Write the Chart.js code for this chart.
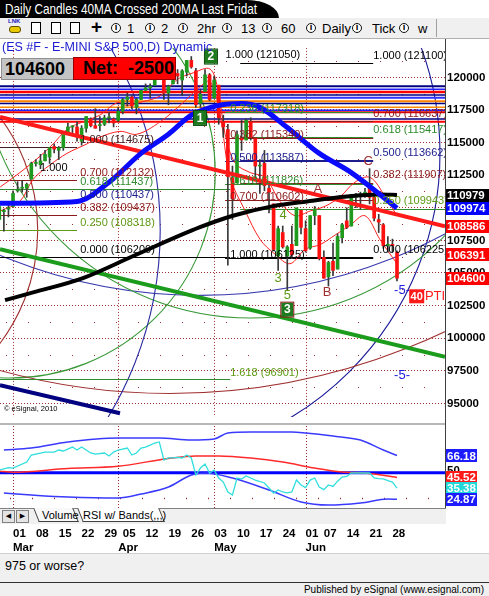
<!DOCTYPE html>
<html>
<head>
<meta charset="utf-8">
<title>Daily Candles 40MA Crossed 200MA</title>
<script src="https://cdn.jsdelivr.net/npm/chart.js@4.4.1/dist/chart.umd.min.js"></script>
<style>
html,body{margin:0;padding:0}
body{width:489px;height:596px;position:relative;overflow:hidden;background:#fff;font-family:"Liberation Sans",Arial,sans-serif}
div,span,canvas{position:absolute}
#tab{left:0;top:0;width:279px;height:18px;background:#000;border-top-right-radius:32px 18px}
#title{left:5px;top:0;color:#fff;font-size:15px;line-height:18px;white-space:nowrap;transform-origin:0 50%}
#toolbar{left:0;top:18px;width:489px;height:20px;background:#f0f0f0;border-bottom:1px solid #b0b0b0}
.ic{top:5px;width:8px;height:8px;border:1px solid #111;border-radius:50%;font-size:7px;line-height:8px;text-align:center;font-weight:bold;background:#fff;font-family:"DejaVu Sans",sans-serif}
.tl{top:3px;font-size:13px;line-height:15px;color:#000;white-space:nowrap}
.doc{top:4px;width:8px;height:10px;border:1px solid #000;background:#fff}
#c1{left:0;top:39px}
#c2{left:0;top:424px}
</style>
</head>
<body>
<div id="tab"></div>
<span id="title">Daily Candles 40MA Crossed 200MA Last Fridat</span>
<div id="toolbar">
  <span style="left:8px;top:0;font-size:6px;font-weight:bold;color:#2020c0">LNK</span>
  <div style="left:9px;top:8px;width:10px;height:5px;background:#e8c800;border:1px solid #605000;border-radius:3px"></div>
  <div class="doc" style="left:31px"></div>
  <div class="doc" style="left:51px"></div>
  <div class="doc" style="left:70px"></div>
  <span class="tl" style="left:91px;top:-1px;font-size:19px;line-height:20px;font-weight:bold">+</span>
  <div class="ic" style="left:111px">I</div><span class="tl" style="left:127px">1</span>
  <div class="ic" style="left:145px">I</div><span class="tl" style="left:161px">2</span>
  <div class="ic" style="left:178px">I</div><span class="tl" style="left:197px">2hr</span>
  <div class="ic" style="left:222px">I</div><span class="tl" style="left:241px">13</span>
  <div class="ic" style="left:262px">I</div><span class="tl" style="left:281px">60</span>
  <div class="ic" style="left:306px">I</div><span class="tl" style="left:322px">Daily</span>
  <div class="ic" style="left:352px">I</div><span class="tl" style="left:372px">Tick</span>
  <div class="ic" style="left:399px">I</div><span class="tl" style="left:418px">w</span>
  <div style="left:436px;top:1px;width:1px;height:18px;background:#a0a0a0"></div>
</div>

<canvas id="c1" width="489" height="387"></canvas>
<canvas id="c2" width="489" height="132"></canvas>

<div style="left:2px;top:40px;font-size:12.5px;line-height:14px;color:#1a1ad0;white-space:nowrap">(ES #F - E-MINI S&amp;P 500,D) Dynamic</div>
<div style="left:1px;top:58px;width:72px;height:20px;background:#c4c4c4;border:1px solid #909090"><span id="lastTxt" style="left:3px;top:0;font-size:18px;line-height:20px;font-weight:bold"></span></div>
<div style="left:73px;top:57px;width:101px;height:21px;background:#ff0000;border:1px solid #900"><span id="netTxt" style="left:9px;top:0;font-size:18px;line-height:21px;font-weight:bold;white-space:pre"></span></div>

<div style="left:0;top:423px;width:446px;height:2px;background:#b8b8b8"></div>
<div style="left:445px;top:39px;width:1px;height:485px;background:#404040"></div>

<div style="left:0;top:508px;width:446px;height:15px;background:#f0f0f0;border-top:1px solid #808080">
  <div style="left:2px;top:1px;width:11px;height:11px;border:1px solid #808080;background:#e4e4e4;font-size:7px;line-height:11px;text-align:center;font-family:'DejaVu Sans'">&#9664;</div>
  <div style="left:16px;top:1px;width:11px;height:11px;border:1px solid #808080;background:#e4e4e4;font-size:7px;line-height:11px;text-align:center;font-family:'DejaVu Sans'">&#9654;</div>
  <div style="left:36px;top:-1px;width:38px;height:13px;border:1px solid #404040;border-top:none;background:#f8f8f8;transform:skewX(22deg)"></div>
  <div style="left:80px;top:-1px;width:80px;height:13px;border:1px solid #404040;border-top:none;background:#fff;transform:skewX(22deg)"></div>
  <span style="left:42px;top:0;font-size:11px;line-height:13px">Volume</span>
  <span style="left:83px;top:0;font-size:11px;line-height:13px;white-space:nowrap">RSI w/ Bands(,,,)</span>
</div>

<div style="left:0;top:553px;width:489px;height:29px;background:#f0f0f0;border-top:1px solid #d0d0d0"><span style="left:5px;top:5px;font-size:12.5px">975 or worse?</span></div>
<div style="left:0;top:582px;width:489px;height:1px;background:#303030"></div>
<div style="left:0;top:583px;width:489px;height:13px;background:#f0f0f0"><span style="right:5px;top:0;font-size:10px;line-height:13px;white-space:nowrap">Published by eSignal (www.esignal.com)</span></div>

<script>
// ---------------- DATA ----------------
const dates = ['02-24','02-25','02-26',
 '03-01','03-02','03-03','03-04','03-05','03-08','03-09','03-10','03-11','03-12','03-15','03-16','03-17','03-18','03-19','03-22','03-23','03-24','03-25','03-26','03-29','03-30','03-31',
 '04-01','04-05','04-06','04-07','04-08','04-09','04-12','04-13','04-14','04-15','04-16','04-19','04-20','04-21','04-22','04-23','04-26','04-27','04-28','04-29','04-30',
 '05-03','05-04','05-05','05-06','05-07','05-10','05-11','05-12','05-13','05-14','05-17','05-18','05-19','05-20','05-21','05-24','05-25','05-26','05-27','05-28',
 '06-01','06-02','06-03','06-04','06-07','06-08','06-09','06-10','06-11','06-14','06-15','06-16','06-17','06-18','06-21','06-22','06-23','06-24','06-25','06-28','06-29'];

const openP = [109100,109700,109900,
 110100,111300,111500,111500,112200,113400,113300,113600,113900,114700,114400,114600,115600,116200,116200,115100,116100,116800,116300,116300,116400,116900,116800,
 116700,117400,118300,118500,117700,118300,119000,119200,119400,120600,120600,118800,119500,120300,119800,120400,121300,120500,118000,118900,120200,
 118400,119400,116600,116000,112300,111900,115300,115200,116600,115300,113200,113400,111500,110300,106300,108100,106300,107200,107100,109800,
 108400,106900,109400,109400,106200,104700,105900,105300,107700,109000,108600,110800,111000,111100,111600,110800,109100,108700,107100,107200,106600];
const highP = [110200,109900,110300,
 111300,112000,112100,111900,113500,113700,114100,114400,114600,114900,114700,115600,116500,116300,116600,116300,117000,116900,117600,117000,117100,117300,116900,
 117700,118400,118800,118600,118400,119000,119500,119500,120600,120900,120700,119400,120400,120600,120600,121300,121600,120700,119100,120600,120300,
 120100,119400,117100,116400,113200,115900,116700,116800,116900,115300,113700,114400,112000,110300,108600,108600,107100,108600,109900,109800,
 109000,109400,110100,109400,106700,105900,107300,108000,108800,110000,111000,111100,111200,111500,113000,111300,109500,108800,107800,107600,106700];
const lowP = [109100,108200,109300,
 110100,111200,111200,110800,112200,113200,113000,113600,113400,114200,113700,114400,115600,115700,115100,114800,115800,116200,116100,115900,116300,116500,116200,
 116600,117200,117800,117600,117200,118300,119000,118400,119400,120400,118300,117900,119500,119500,118600,120100,120700,117700,117700,118900,118200,
 118400,116400,115400,105600,109100,111900,114400,115200,115200,112200,111100,111300,109600,106700,105200,106900,103700,106100,107100,108000,
 106600,106800,108700,106000,104600,104000,104800,105300,107300,108400,108600,110000,109900,110800,110300,109000,108100,106900,106600,106600,104400];
const closeP = [110100,109800,110000,
 111100,111400,111500,111800,113400,113400,113600,114100,114600,114500,114600,115600,116200,116200,115600,116100,117000,116300,116100,116300,116900,116900,116500,
 117400,118300,118500,117800,118300,119000,119200,119300,120600,120800,118800,119300,120300,120100,120500,121300,120800,117900,118700,120200,118300,
 119800,116900,116200,112400,110700,115600,115200,116700,115400,113200,113200,111700,111200,106800,108400,107000,107000,106400,110000,108500,
 106700,109400,109900,106100,104600,105800,105200,107800,108700,108500,111000,110900,111000,111200,110800,109200,108900,107100,107200,107100,104600];

// moving averages (trading-day index from 01 Mar, value)
const ma40Days = [-3,14,21,28,34,39,45,50,54,60,67,74,84];
const ma40Vals = [110350,110490,111960,114170,115640,117110,117850,117990,117700,116150,114170,112700,109974];
const ma200Days = [-1.75,4.4,15.3,26.3,40.9,48.1,56.9,64.3,73.1,80.3,84];
const ma200Vals = [102920,103510,104610,106300,108510,109390,110130,110490,110860,111010,110979];

// thin red price envelopes
const envUpDays = [-2.8,1.5,5.9,8.8,11.8,15.3,19.0,22.8,25.0,28.4,32.2,35.9,39.4,43.1,44.9,46.4,48.6,51.9,55.1,58.4,61.7,65.0,68.3,71.6,74.8,78.1,81.4,84];
const envUpVals = [111596,112699,113949,114905,116007,116596,117110,118066,117846,118140,118581,119831,120346,120640,118949,115640,113434,112699,112331,110493,109390,109757,110125,110860,111963,112331,110860,109390];
const envLoDays = [-2.8,1.5,4.4,8.1,11.8,16.2,19.0,23.4,27.1,32.2,37.2,40.3,43.1,45.3,47.5,50.8,54.1,57.3,60.6,63.9,67.2,70.5,73.7,77.0,80.3,84];
const envLoVals = [109757,110493,112184,113287,114169,114905,115419,115860,115640,116596,118066,119096,119684,117110,112331,109757,107551,106448,105713,106816,107183,107918,108654,109390,107551,105713];

// drawn trend lines (day index, price)
const redTrendDays = [-2.85,94.5],  redTrendVals = [116960,108586];
const greenTrendDays = [-2.85,94.5], greenTrendVals = [106820,98580];
const navyTrendDays = [-2.85,23.4], navyTrendVals = [96390,94250];

// horizontal band levels at top
const bandPrices = [119316,119096,118875,118654,118434,118176,117993,117700,117478,117331,116816,116596];
const bandColors = ['#000080','#2020ff','#ff0000','#000080','#3030ff','#ff8000','#000080','#ff8c00','#2020ff','#e00000','#000080','#ff0000'];
const bandWidths = [2,1.5,2.5,1.5,2,2,1.5,1.5,1.5,2,1.5,2];

// Fibonacci arcs: center (day, price), radius in days
const arcDays = [-0.66,26.0,40.9,34.4,51.9,-46.6,-35.7];
const arcPrices = [112683,114169,142993,144831,122330,108270,108270];
const arcRadii = [44.9,67.4,113.3,140.0,59.3,78.8,41.1];
const arcColors = ['#3a9a3a','#1a1a9a','#3a3ab0','#a03030','#3a9a3a','#2a2aa0','#a03030'];

// Fibonacci retracement sets
const fibLeftLevels = [114675,112132,111437,110437,109437,108318,106200];
const fibLeftRatios = ['1.000','0.700','0.618','0.500','0.382','0.250','0.000'];
const fibMidLevels = [117318,115340,113587,111826,110602,106125];
const fibMidRatios = ['0.236','0.382','0.500','0.618','0.700','1.000'];
const fibRightLevels = [121100,116637,115417,113662,111907,109943,106225];
const fibRightRatios = ['1.000','0.700','0.618','0.500','0.382','0.250','0.000'];
const fibExtLevel = 96901, fibExtRatio = '1.618';

// wave / pattern markers
const boxTexts = ['1','2','3'];
const boxDays = [40.9,43.3,60];
const boxPrices = [116890,121596,102190];
const letterTexts = ['4','3','5','A','B','C','-5-','-5-'];
const letterDays = [59.1,58,60,66.7,68.7,77.7,85.1,85.1];
const letterPrices = [109390,104610,103290,111375,103510,113581,103654,97110];

// right-axis last values
const lastVals = [110979,109974,108586,106391,104600];
const lastColors = ['#000000','#0000ff','#ff0000','#ff0000','#ff0000'];
const priceTicks = [95000,97500,100000,102500,105000,107500,110000,112500,115000,117500,120000];
const minorGrid = [96250,98750,101250,103750,106250,108750,111250,113750,116250,118750,121250];

// RSI w/ Bands
const rsiDays = [-3,-1,0,3,4,7,9,10,11,13,14,15,17,18,20,21,22,23,25,26,27,28,29,30,31,32,33,34,35,36,37,38,39,40,41,42,43,44,45,46,47,48,49,50,51,52,53,55,57,58,59,60,61,62,63,64,65,66,67,68,69,70,71,72,73,74,75,76,77,78,79,80,81,82,83,84];
const rsiVals = [52.5,54.7,54.4,60.1,66.7,69.5,69.5,71.4,70.5,74.2,71.4,74.2,68.6,67.6,68.6,65.8,69.5,71.4,73.3,66.7,68.6,73.3,74.2,76.0,78.0,79.0,62.0,63.9,63.9,64.5,63.9,66.7,63.9,47.8,54.4,58.2,49.7,52.5,45.0,41.2,31.8,29.0,45.0,44.0,46.9,45.0,43.0,40.3,30.8,33.7,31.8,31.0,31.8,43.1,38.4,36.0,43.0,45.0,36.5,34.0,38.4,37.0,42.0,45.9,46.5,49.7,49.7,49.7,49.7,49.7,45.0,44.5,44.1,42.5,41.2,35.38];
const rsiMaDays = [-3,0,12,23,34,40,45,52,59,66,72,77,84];
const rsiMaVals = [51.5,50.5,54,56,63.5,65.8,65.8,63.9,60.1,54.4,50.7,49.7,45.52];
const rsiUpDays = [-2,4,12,23,32,39,44,47,52,61,64,70,76,81,84];
const rsiUpVals = [71.4,73.3,79,82.7,82.7,80.8,81.8,87.5,88.4,88.4,87.5,84.6,80.8,71.4,66.18];
const rsiLoDays = [-2,4,12,23,28,34,39,42,48,56,63,69,76,82,84];
const rsiLoVals = [30.8,29,27.1,26.1,29.9,36.5,47.8,49.7,45,33.7,22.4,19.5,21.4,25.2,24.87];
const rsiMid = 50;
const rsiLast = [66.18,45.52,35.38,24.87];
const rsiLastColors = ['#1c1cff','#ff1a1a','#22d8d8','#1c1cff'];

// x-axis labels
const weekDates = ['03-01','03-08','03-15','03-22','03-29','04-05','04-12','04-19','04-26','05-03','05-10','05-17','05-24','06-01','06-07','06-14','06-21','06-28'];
const weekLabels = ['01','08','15','22','29','05','12','19','26','03','10','17','24','01','07','14','21','28'];
const monthDates = ['03-01','04-01','05-03','06-01'];
const monthLabels = ['Mar','Apr','May','Jun'];

// ---------------- HELPERS ----------------
const off = dates.indexOf('03-01');
const dayX = d => dates.indexOf(d) - off;
const pairs = (xs, ys) => xs.map((x,i)=>({x:x, y:ys[i]}));
const xMin = -2.85, xMax = 94.5;
const yMin = 93950, yMax = 122260;
const FONT = '"Liberation Sans", Arial, sans-serif';
const DR='#8b1a1a', GR='#2e8b2e', GR2='#5f9a14', NV='#1c1c8c', BK='#000000';

document.getElementById('lastTxt').textContent = String(closeP[closeP.length-1]);
document.getElementById('netTxt').textContent = 'Net:  ' + String(closeP[closeP.length-1]-closeP[closeP.length-2]);
(function(){const t=document.getElementById('title');const w=t.getBoundingClientRect().width;t.style.transform='scaleX('+(252/w)+')';})();

function hLine(ctx, x1, x2, py, color, w){
  ctx.strokeStyle=color; ctx.lineWidth=w; ctx.beginPath(); ctx.moveTo(x1,py); ctx.lineTo(x2,py); ctx.stroke();
}
function drawFib(ctx, xs, ys, levels, colors, from, toArr){
  levels.forEach((lv,i)=>{
    const py=Math.round(ys.getPixelForValue(lv))+0.5;
    hLine(ctx, xs.getPixelForValue(from), xs.getPixelForValue(toArr[i]), py, colors[i], 1);
  });
}
function fibLabels(ctx, xs, ys, levels, ratios, colors, labelDay, lift){
  ctx.font='11px '+FONT; ctx.textAlign='left'; ctx.textBaseline='middle';
  levels.forEach((lv,i)=>{
    ctx.fillStyle=colors[i];
    ctx.fillText(ratios[i]+' ('+lv+')', xs.getPixelForValue(labelDay), ys.getPixelForValue(lv)-lift);
  });
}
function valueBox(ctx, left, w, py, text, bg){
  ctx.fillStyle=bg; ctx.fillRect(left, Math.round(py-6.5), w, 13);
  ctx.fillStyle='#fff'; ctx.font='bold 11.5px '+FONT; ctx.textAlign='left'; ctx.textBaseline='middle';
  ctx.fillText(text, left+1, Math.round(py)+0.5);
}

const mainDecor = {
  id:'mainDecor',
  beforeDatasetsDraw(chart){
    const {ctx, chartArea:a, scales:{x,y}} = chart;
    ctx.save(); ctx.beginPath(); ctx.rect(a.left,a.top,a.width,a.height); ctx.clip();
    ctx.setLineDash([1,21]);
    minorGrid.forEach(p=>hLine(ctx, a.left+6, a.right, Math.round(y.getPixelForValue(p))+0.5, '#a03030', 1));
    ctx.setLineDash([1,2]); ctx.strokeStyle='#a03030'; ctx.lineWidth=1;
    monthDates.forEach(d=>{const px=Math.round(x.getPixelForValue(dayX(d)))+0.5; ctx.beginPath(); ctx.moveTo(px,a.top); ctx.lineTo(px,a.bottom); ctx.stroke();});
    ctx.setLineDash([]);
    const ppd = a.width/(xMax-xMin);
    arcDays.forEach((d,i)=>{
      ctx.strokeStyle=arcColors[i]; ctx.lineWidth=1.1; ctx.beginPath();
      ctx.arc(x.getPixelForValue(d), y.getPixelForValue(arcPrices[i]), arcRadii[i]*ppd, 0, Math.PI*2); ctx.stroke();
    });
    bandPrices.forEach((p,i)=>hLine(ctx, a.left, a.right, y.getPixelForValue(p), bandColors[i], bandWidths[i]));
    drawFib(ctx,x,y,fibLeftLevels,['#402020',DR,GR,NV,DR,GR2,BK],xMin,[14,14,47.5,14,14,14,47.5]);
    drawFib(ctx,x,y,fibMidLevels,[GR,DR,NV,GR,DR,BK],46.4,[78.8,78.8,78.8,78.8,78.8,78.8]);
    drawFib(ctx,x,y,fibRightLevels,[BK,DR,GR,NV,DR,GR,BK],49.7,[78.8,78.8,78.8,78.8,78.8,xMax,78.8]);
    hLine(ctx, a.left, x.getPixelForValue(47.5), Math.round(y.getPixelForValue(fibExtLevel))+0.5, GR, 1);
    ctx.restore();
  },
  afterDatasetsDraw(chart){
    const {ctx, chartArea:a, scales:{x,y}} = chart;
    ctx.save(); ctx.beginPath(); ctx.rect(a.left,a.top,a.width,a.height); ctx.clip();
    fibLabels(ctx,x,y,fibLeftLevels,fibLeftRatios,['#402020',DR,GR,NV,DR,GR2,BK],14.7,7);
    fibLabels(ctx,x,y,fibMidLevels,fibMidRatios,[GR,DR,NV,GR,DR,BK],47.5,3);
    fibLabels(ctx,x,y,fibRightLevels,fibRightRatios,[BK,DR,GR,NV,DR,GR2,BK],78.8,7.5);
    ctx.fillStyle=GR2; ctx.fillText(fibExtRatio+' ('+fibExtLevel+')', x.getPixelForValue(47.5), y.getPixelForValue(fibExtLevel)-6);
    ctx.fillStyle=BK; ctx.fillText('1.000', x.getPixelForValue(5.9), y.getPixelForValue(113066));
    ctx.fillText('1.000 (121050)', x.getPixelForValue(46.5), y.getPixelForValue(121742));
    ctx.font='bold 12px '+FONT; ctx.textAlign='center'; ctx.textBaseline='middle';
    boxTexts.forEach((t,i)=>{
      const px=x.getPixelForValue(boxDays[i]), py=y.getPixelForValue(boxPrices[i]);
      ctx.fillStyle='#1e7a1e'; ctx.fillRect(px-6,py-7,12,14);
      ctx.strokeStyle= i===2 ? '#8b1a1a' : '#0a4a0a'; ctx.lineWidth=1; ctx.strokeRect(px-6.5,py-7.5,13,15);
      ctx.fillStyle='#fff'; ctx.fillText(t,px,py+0.5);
    });
    ctx.font='13px '+FONT;
    letterTexts.forEach((t,i)=>{
      ctx.fillStyle = i<3 ? GR2 : (i<6 ? '#a03030' : '#2020e0');
      ctx.fillText(t, x.getPixelForValue(letterDays[i]), y.getPixelForValue(letterPrices[i]));
    });
    const pp=x.getPixelForValue(88.2), py=y.getPixelForValue(103213);
    ctx.fillStyle='#ff1a1a'; ctx.fillRect(pp-7,py-7,15,14);
    ctx.fillStyle='#fff'; ctx.font='bold 11px '+FONT; ctx.fillText('40',pp+0.5,py+0.5);
    ctx.fillStyle='#ff1a1a'; ctx.font='13px '+FONT; ctx.textAlign='left'; ctx.fillText('PTI', x.getPixelForValue(90.1), py+0.5);
    ctx.fillStyle='#000'; ctx.font='7.5px '+FONT; ctx.fillText('\u00A9 eSignal, 2010', a.left+4, a.bottom-8);
    ctx.restore();
  },
  afterDraw(chart){
    const {ctx, chartArea:a, scales:{y}} = chart;
    lastVals.forEach((v,i)=>valueBox(ctx, a.right+1, 43, y.getPixelForValue(v), String(v), lastColors[i]));
  }
};

const rsiDecor = {
  id:'rsiDecor',
  beforeDatasetsDraw(chart){
    const {ctx, chartArea:a, scales:{x,y}} = chart;
    ctx.save(); ctx.beginPath(); ctx.rect(a.left,a.top,a.width,a.height); ctx.clip();
    ctx.setLineDash([1,2]); ctx.strokeStyle='#a03030'; ctx.lineWidth=1;
    monthDates.forEach(d=>{const px=Math.round(x.getPixelForValue(dayX(d)))+0.5; ctx.beginPath(); ctx.moveTo(px,a.top); ctx.lineTo(px,a.bottom); ctx.stroke();});
    ctx.setLineDash([1,21]);
    hLine(ctx, a.left+10, a.right, Math.round(y.getPixelForValue(26))+0.5, '#a03030', 1.5);
    ctx.restore();
  },
  afterDraw(chart){
    const {ctx, chartArea:a, scales:{y}} = chart;
    ctx.fillStyle='#000'; ctx.font='bold 11.5px '+FONT; ctx.textAlign='left'; ctx.textBaseline='middle';
    ctx.fillText(String(rsiMid), a.right+2, y.getPixelForValue(rsiMid)-2);
    rsiLast.forEach((v,i)=>valueBox(ctx, a.right+1, 31, y.getPixelForValue(v), v.toFixed(2), rsiLastColors[i]));
  }
};

const candleColor = dates.map((d,i)=> closeP[i]>=openP[i] ? '#1f9a1f' : '#ff1010');

new Chart(document.getElementById('c1'), {
  type:'bar',
  data:{datasets:[
    {type:'line', label:'40MA', data:pairs(ma40Days,ma40Vals), borderColor:'#0a0aff', borderWidth:5, pointRadius:0, cubicInterpolationMode:'monotone', order:1},
    {type:'line', label:'200MA', data:pairs(ma200Days,ma200Vals), borderColor:'#000', borderWidth:4, pointRadius:0, cubicInterpolationMode:'monotone', order:2},
    {type:'line', label:'red trend', data:pairs(redTrendDays,redTrendVals), borderColor:'#ff1a1a', borderWidth:4, pointRadius:0, order:3},
    {type:'line', label:'green trend', data:pairs(greenTrendDays,greenTrendVals), borderColor:'#1c9c1c', borderWidth:4, pointRadius:0, order:3},
    {type:'line', label:'navy trend', data:pairs(navyTrendDays,navyTrendVals), borderColor:'#000080', borderWidth:4, pointRadius:0, order:3},
    {label:'body', data:dates.map((d,i)=>({x:i-off, y:[openP[i],closeP[i]]})), backgroundColor:candleColor, barThickness:3, minBarLength:1, grouped:false, order:4},
    {label:'wick', data:dates.map((d,i)=>({x:i-off, y:[lowP[i],highP[i]]})), backgroundColor:'#383838', barThickness:1, grouped:false, order:5},
    {type:'line', label:'env up', data:pairs(envUpDays,envUpVals), borderColor:'#ff2020', borderWidth:1, pointRadius:0, tension:0.35, order:6},
    {type:'line', label:'env lo', data:pairs(envLoDays,envLoVals), borderColor:'#ff2020', borderWidth:1, pointRadius:0, tension:0.35, order:6}
  ]},
  options:{
    responsive:false, animation:false, devicePixelRatio:1,
    layout:{padding:{top:1,bottom:1,left:0,right:0}},
    plugins:{legend:{display:false}, tooltip:{enabled:false}},
    scales:{
      x:{type:'linear', display:false, min:xMin, max:xMax, offset:false},
      y:{type:'linear', position:'right', min:yMin, max:yMax,
         afterFit:s=>{s.width=44;},
         afterBuildTicks:s=>{s.ticks=priceTicks.map(v=>({value:v}));},
         ticks:{color:'#000', font:{family:'Liberation Sans', size:11.5, weight:'bold'}, padding:2, callback:v=>String(v)},
         grid:{color:'#a03030', lineWidth:1, drawTicks:false},
         border:{display:false, dash:[1,2]}}
    }
  },
  plugins:[mainDecor]
});

const axisTickDays = Array.from(new Set(weekDates.concat(monthDates).map(dayX))).sort((a,b)=>a-b);
function axisLabel(v){
  const wi = weekDates.map(dayX).indexOf(v);
  const mi = monthDates.map(dayX).indexOf(v);
  const top = wi>=0 ? weekLabels[wi] : '';
  return mi>=0 ? [top, monthLabels[mi]] : top;
}

new Chart(document.getElementById('c2'), {
  type:'line',
  data:{datasets:[
    {label:'RSI', data:pairs(rsiDays,rsiVals), borderColor:'#30dede', borderWidth:1.3, order:1},
    {label:'RSI MA', data:pairs(rsiMaDays,rsiMaVals), borderColor:'#ff2a2a', borderWidth:1.5, cubicInterpolationMode:'monotone', order:2},
    {label:'Upper', data:pairs(rsiUpDays,rsiUpVals), borderColor:'#3a3aff', borderWidth:1.5, cubicInterpolationMode:'monotone', order:3},
    {label:'Lower', data:pairs(rsiLoDays,rsiLoVals), borderColor:'#3a3aff', borderWidth:1.5, cubicInterpolationMode:'monotone', order:3},
    {label:'50', data:[{x:xMin,y:rsiMid},{x:xMax,y:rsiMid}], borderColor:'#0000ff', borderWidth:3, order:4}
  ]},
  options:{
    responsive:false, animation:false, devicePixelRatio:1,
    layout:{padding:{top:2,bottom:0,left:0,right:0}},
    elements:{point:{radius:0}},
    plugins:{legend:{display:false}, tooltip:{enabled:false}},
    scales:{
      x:{type:'linear', min:xMin, max:xMax, offset:false,
         afterBuildTicks:s=>{s.ticks=axisTickDays.map(v=>({value:v}));},
         afterFit:s=>{s.height=48;},
         ticks:{autoSkip:false, maxRotation:0, align:'start', padding:11, color:'#000', font:{family:'Liberation Sans', size:11.5, weight:'bold'}, callback:v=>axisLabel(v)},
         grid:{display:false}, border:{display:false}},
      y:{type:'linear', position:'right', min:16.7, max:94.06,
         afterFit:s=>{s.width=44;}, ticks:{display:false}, grid:{display:false}, border:{display:false}}
    }
  },
  plugins:[rsiDecor]
});
</script>
</body>
</html>
